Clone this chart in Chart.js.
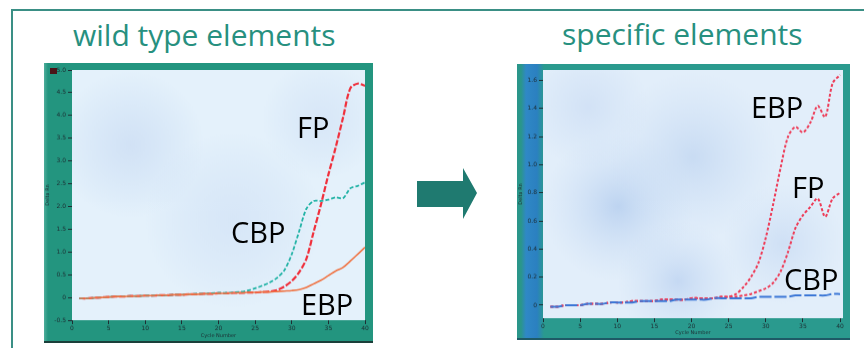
<!DOCTYPE html>
<html>
<head>
<meta charset="utf-8">
<script src="https://cdn.jsdelivr.net/npm/chart.js@4/dist/chart.umd.min.js"></script>
<style>
  html,body{margin:0;padding:0;background:#fff;width:864px;height:348px;overflow:hidden;position:relative;font-family:"Open Sans",sans-serif;}
  .box{position:absolute;left:11px;top:9px;width:860px;height:345px;border-top:2px solid #3a8f85;border-left:2px solid #3a8f85;box-sizing:border-box;}
  .title{position:absolute;color:#27907f;font-size:30px;line-height:1;white-space:nowrap;}
  .lbl{position:absolute;color:#000;font-size:29px;line-height:1;white-space:nowrap;}
  canvas{position:absolute;}
  #c1{left:44px;top:63px;background:linear-gradient(to right,#4fae9c 0px,#23957f 4px,#23957f 100%);border-bottom:2px solid #1b3f3a;}
  #c2{left:517px;top:64px;background:linear-gradient(to right,#2a968a 0px,#2a968a 4px,#2f88c6 9px,#2b80c0 20px,#2a9a8e 27px,#2a9a8e 100%);border-bottom:2px solid #1e5a66;}
  .icon{position:absolute;left:50px;top:68px;width:7px;height:6px;background:#4a1418;}
</style>
</head>
<body>
<div class="box"></div>
<div class="title" style="left:73px;top:20px;">wild type elements</div>
<div class="title" style="left:562px;top:19px;">specific elements</div>

<canvas id="c1" width="329" height="280"></canvas>
<canvas id="c2" width="333" height="276"></canvas>
<div class="icon"></div>

<svg style="position:absolute;left:0;top:0" width="864" height="348">
  <polygon points="417,181 463,181 463,168 477,193 463,219 463,207 417,207" fill="#1f7a70"/>
</svg>

<div class="lbl" style="left:297px;top:112px;">FP</div>
<div class="lbl" style="left:231px;top:217px;">CBP</div>
<div class="lbl" style="left:301px;top:289px;">EBP</div>
<div class="lbl" style="left:751px;top:92px;">EBP</div>
<div class="lbl" style="left:792px;top:172px;">FP</div>
<div class="lbl" style="left:784px;top:264px;">CBP</div>

<script>
// ---------- DATA ----------
const cycles = [1,2,3,4,5,6,7,8,9,10,11,12,13,14,15,16,17,18,19,20,21,22,23,24,25,26,27,28,29,30,31,32,33,34,35,36,37,38,39,40];
const xTickLabels = [0,5,10,15,20,25,30,35,40];

// wild type elements (left panel)
const wildFP  = [-0.02,-0.02,-0.01,0.00,0.01,0.02,0.02,0.03,0.03,0.04,0.04,0.05,0.05,0.06,0.06,0.07,0.07,0.08,0.08,0.09,0.09,0.10,0.10,0.11,0.11,0.12,0.13,0.16,0.24,0.36,0.55,0.85,1.45,2.05,2.70,3.30,3.95,4.60,4.70,4.65];
const wildCBP = [-0.02,-0.02,-0.01,0.00,0.01,0.02,0.02,0.03,0.03,0.04,0.04,0.05,0.05,0.06,0.06,0.07,0.08,0.08,0.09,0.10,0.10,0.11,0.12,0.15,0.20,0.26,0.33,0.43,0.60,0.95,1.45,1.95,2.12,2.12,2.15,2.20,2.18,2.40,2.45,2.53];
const wildEBP = [-0.02,-0.02,-0.01,0.00,0.01,0.02,0.02,0.03,0.03,0.04,0.04,0.05,0.05,0.06,0.06,0.07,0.07,0.08,0.08,0.09,0.09,0.10,0.10,0.11,0.11,0.12,0.12,0.13,0.14,0.15,0.17,0.22,0.30,0.38,0.48,0.58,0.66,0.80,0.95,1.10];
const wildYTicks = [-0.5,0,0.5,1,1.5,2,2.5,3,3.5,4,4.5,5];

// specific elements (right panel)
const specEBP = [-0.01,-0.01,0.00,0.00,0.00,0.01,0.01,0.01,0.02,0.02,0.02,0.03,0.03,0.03,0.03,0.04,0.04,0.04,0.04,0.05,0.05,0.05,0.05,0.06,0.06,0.08,0.13,0.20,0.30,0.48,0.72,0.98,1.20,1.27,1.23,1.30,1.42,1.34,1.58,1.64];
const specFP  = [-0.01,-0.01,0.00,0.00,0.00,0.01,0.01,0.01,0.02,0.02,0.02,0.03,0.03,0.03,0.03,0.04,0.04,0.04,0.04,0.05,0.05,0.05,0.05,0.06,0.06,0.06,0.07,0.08,0.10,0.12,0.16,0.24,0.38,0.55,0.64,0.70,0.76,0.63,0.76,0.80];
const specCBP = [-0.01,-0.01,0.00,0.00,0.00,0.01,0.01,0.01,0.02,0.02,0.02,0.02,0.03,0.03,0.03,0.03,0.03,0.04,0.04,0.04,0.04,0.04,0.05,0.05,0.05,0.05,0.05,0.05,0.06,0.06,0.06,0.06,0.06,0.07,0.07,0.07,0.07,0.07,0.08,0.08];
const specYTicks = [0,0.2,0.4,0.6,0.8,1,1.2,1.4,1.6];

// ---------- helpers ----------
const pts = arr => cycles.map((c,i)=>({x:c,y:arr[i]}));

function bgPlugin(base, blobs){
  return {
    id:'plotBg',
    beforeDraw(chart){
      const {ctx, chartArea:a} = chart;
      ctx.save();
      ctx.fillStyle = base;
      ctx.fillRect(a.left, a.top, a.right-a.left, a.bottom-a.top);
      ctx.beginPath(); ctx.rect(a.left, a.top, a.right-a.left, a.bottom-a.top); ctx.clip();
      blobs.forEach(b=>{
        const cx = a.left + b[0]*(a.right-a.left), cy = a.top + b[1]*(a.bottom-a.top), r = b[2]*(a.right-a.left);
        const g = ctx.createRadialGradient(cx,cy,0,cx,cy,r);
        g.addColorStop(0,b[3]); g.addColorStop(1,'rgba(200,220,245,0)');
        ctx.fillStyle = g; ctx.fillRect(cx-r,cy-r,2*r,2*r);
      });
      ctx.restore();
    }
  };
}

function makeChart(id, datasets, yMin, yMax, yTicks, xMax, yW, xH, pad, bg){
  const tickColor = '#1d2e33';
  return new Chart(document.getElementById(id), {
    type:'line',
    data:{datasets},
    plugins:[bg],
    options:{
      responsive:false, animation:false, events:[],
      layout:{padding:pad},
      plugins:{legend:{display:false}, tooltip:{enabled:false}},
      elements:{point:{radius:0}, line:{tension:0.3}},
      scales:{
        x:{type:'linear', min:0, max:xMax,
          afterBuildTicks:s=>{s.ticks = xTickLabels.map(v=>({value:v}));},
          afterFit:s=>{s.height = xH;},
          grid:{drawOnChartArea:false, drawTicks:true, tickLength:4, color:tickColor, lineWidth:1},
          border:{display:false},
          ticks:{font:{size:6, family:'DejaVu Sans'}, color:tickColor, padding:1, maxRotation:0, autoSkip:false},
          title:{display:true, text:'Cycle Number', font:{size:5, family:'DejaVu Sans'}, color:tickColor, padding:0}
        },
        y:{type:'linear', min:yMin, max:yMax,
          afterBuildTicks:s=>{s.ticks = yTicks.map(v=>({value:v}));},
          afterFit:s=>{s.width = yW;},
          grid:{drawOnChartArea:false, drawTicks:true, tickLength:4, color:tickColor, lineWidth:1},
          border:{display:false},
          ticks:{font:{size:6, family:'DejaVu Sans'}, color:tickColor, padding:2, autoSkip:false},
          title:{display:true, text:'Delta Rn', font:{size:5, family:'DejaVu Sans'}, color:tickColor, padding:1}
        }
      }
    }
  });
}

makeChart('c1', [
  {data:pts(wildEBP), borderColor:'#f07444', borderWidth:1.6},
  {data:pts(wildCBP), borderColor:'#22b3a6', borderWidth:1.8, borderDash:[4,2]},
  {data:pts(wildFP),  borderColor:'#f0303c', borderWidth:2.2, borderDash:[6,2]}
], -0.5, 5, wildYTicks, 40, 28, 19, {top:7,right:8,bottom:2,left:0},
  bgPlugin('#e4f1fb', [[0.2,0.3,0.25,'rgba(205,222,244,0.8)'],[0.55,0.6,0.3,'rgba(210,226,246,0.7)'],[0.85,0.2,0.2,'rgba(208,224,245,0.6)']]));

makeChart('c2', [
  {data:pts(specCBP), borderColor:'#3a76d6', borderWidth:2, borderDash:[12,3]},
  {data:pts(specFP),  borderColor:'#ee3c58', borderWidth:2, borderDash:[3,2]},
  {data:pts(specEBP), borderColor:'#ee3c58', borderWidth:2, borderDash:[3,2]}
], -0.092, 1.675, specYTicks, 40.4, 26, 18, {top:6,right:7,bottom:2,left:0},
  bgPlugin('#e2eefa', [[0.25,0.55,0.25,'rgba(180,205,238,0.8)'],[0.5,0.35,0.28,'rgba(190,212,240,0.7)'],[0.45,0.85,0.2,'rgba(185,208,240,0.7)'],[0.8,0.7,0.2,'rgba(195,215,242,0.6)'],[0.15,0.15,0.2,'rgba(200,218,243,0.6)']]));
</script>
</body>
</html>
